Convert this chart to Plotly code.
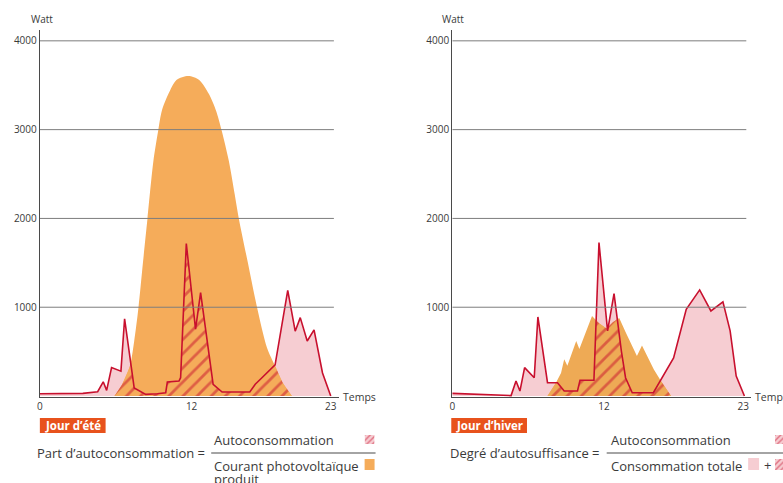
import numpy as np
import plotly.graph_objects as go

# ---------------- data ----------------
# Summer day ("Jour d'été")
summer_pv_hours = [5.9, 6.5, 7.11, 7.46, 7.8, 8.15, 8.51, 8.98, 9.37, 9.64, 10.16, 10.8, 11.74,
                   12.6, 13.37, 13.94, 14.36, 14.94, 15.41, 15.73, 16.45, 17.17, 17.96, 18.6,
                   19.2, 19.93]
summer_pv_watt = [0, 130, 330, 620, 1000, 1500, 2000, 2650, 3000, 3210, 3400, 3560, 3604,
                  3560, 3400, 3210, 3000, 2650, 2270, 2000, 1500, 1000, 544, 338,
                  150, 0]

summer_cons_hours = [0, 3.4, 4.57, 5.01, 5.28, 5.67, 6.41, 6.7, 7.46, 8.37, 9.29, 9.95, 10.08, 11.0,
                     11.13, 11.58, 12.31, 12.71, 13.7, 14.41, 16.6, 17.03, 17.56, 18.6, 19.6, 20.19,
                     20.59, 21.14, 21.68, 22.35, 23]
summer_cons_watt = [26, 30, 48, 160, 64, 320, 280, 870, 90, 18, 26, 37, 158, 169,
                    206, 1717, 752, 1165, 132, 45, 45, 132, 206, 350, 1190, 730,
                    883, 620, 745, 260, 0]

# Winter day ("Jour d'hiver")
winter_pv_hours = [7.53, 8.2, 8.6, 8.85, 9.1, 9.45, 9.8, 10.05, 10.5, 11.05, 11.6, 12.2, 12.7,
                   13.2, 13.7, 14.2, 14.6, 15.0, 15.5, 15.94, 16.5, 17.3]
winter_pv_watt = [0, 150, 260, 413, 340, 480, 620, 530, 700, 900, 820, 760, 830,
                  880, 720, 560, 450, 570, 430, 300, 170, 0]

winter_cons_hours = [0, 4.65, 5.04, 5.35, 5.72, 6.48, 6.77, 7.53, 8.32, 8.85, 9.9, 10.1, 11.2,
                     11.6, 12.28, 12.79, 13.37, 13.7, 14.23, 15.9, 17.5, 18.5, 19.56, 20.45,
                     21.4, 21.97, 22.45, 23.1]
winter_cons_watt = [30, 5, 170, 56, 320, 206, 890, 150, 150, 56, 56, 177, 177,
                    1728, 733, 1153, 507, 206, 37, 37, 430, 977, 1195, 958,
                    1060, 733, 225, 0]

y_tick_vals = [1000, 2000, 3000, 4000]
y_tick_text = ["1000", "2000", "3000", "4000"]
x_tick_vals = [0, 12, 23]
x_tick_text = ["0", "12", "23"]

# ---------------- styles ----------------
OFF = 0                      # page margin is removed by the post script below
W, H = 783 - OFF, 483 - OFF
ORANGE_S = "#F5AC5A"
ORANGE_W = "#EEAA55"
PINK = "#F6CDD2"
RED = "#C8102E"
GRID = "#7d7d7d"
AXIS = "#4a4a4a"
TEXT = "#3a3a3a"
BADGE = "#E8521C"
FONT = "Open Sans"


def px(x):
    return (x - OFF) / W


def py(y):
    return 1 - (y - OFF) / H


def min_curve(h1, w1, h2, w2):
    xs = sorted(set(h1) | set(h2))
    a = np.interp(xs, h1, w1, left=0, right=0)
    b = np.interp(xs, h2, w2, left=0, right=0)
    ox, oy = [], []
    for i in range(len(xs)):
        if i > 0:
            d0 = a[i - 1] - b[i - 1]
            d1 = a[i] - b[i]
            if d0 * d1 < 0:
                t = d0 / (d0 - d1)
                ox.append(xs[i - 1] + t * (xs[i] - xs[i - 1]))
                oy.append(a[i - 1] + t * (a[i] - a[i - 1]))
        ox.append(xs[i])
        oy.append(min(a[i], b[i]))
    return ox, oy


fig = go.Figure()


def add_panel(xa, ya, pv_h, pv_w, c_h, c_w, orange, pv_shape):
    # consumption area (pink)
    fig.add_trace(go.Scatter(x=c_h, y=c_w, mode="lines", line=dict(width=0),
                             fill="tozeroy", fillcolor=PINK, xaxis=xa, yaxis=ya,
                             hoverinfo="skip"))
    # PV production (orange)
    fig.add_trace(go.Scatter(x=pv_h, y=pv_w, mode="lines",
                             line=dict(width=0, color=orange, shape=pv_shape, smoothing=0.8),
                             fill="tozeroy", fillcolor=orange, xaxis=xa, yaxis=ya,
                             hoverinfo="skip"))
    # self-consumption (hatched)
    mx, my = min_curve(pv_h, pv_w, c_h, c_w)
    fig.add_trace(go.Scatter(x=mx, y=my, mode="lines", line=dict(width=0),
                             fill="tozeroy", fillcolor=orange,
                             fillpattern=dict(shape="/", fgcolor=RED, bgcolor=orange,
                                              size=10, solidity=0.28),
                             xaxis=xa, yaxis=ya, hoverinfo="skip"))
    # consumption line
    fig.add_trace(go.Scatter(x=c_h, y=c_w, mode="lines", line=dict(width=1.6, color=RED),
                             xaxis=xa, yaxis=ya, hoverinfo="skip"))


add_panel("x", "y", summer_pv_hours, summer_pv_watt, summer_cons_hours, summer_cons_watt,
          ORANGE_S, "spline")
add_panel("x2", "y2", winter_pv_hours, winter_pv_watt, winter_cons_hours, winter_cons_watt,
          ORANGE_W, "linear")

# legend swatches (hatched) on tiny hidden axes
swatches = [(363, 373, 435, 444), (775, 785, 435, 444), (775, 785, 459, 470)]
for i, (x0, x1, y0, y1) in enumerate(swatches):
    n = i + 3
    fig.add_trace(go.Scatter(x=[0, 1, 1, 0, 0], y=[0, 0, 1, 1, 0], mode="lines",
                             line=dict(width=0), fill="toself", fillcolor=PINK,
                             fillpattern=dict(shape="/", fgcolor=RED, bgcolor=PINK,
                                              size=4, solidity=0.35),
                             xaxis=f"x{n}", yaxis=f"y{n}", hoverinfo="skip"))
    fig.layout[f"xaxis{n}"] = dict(domain=[px(x0), min(1.0, px(x1))], range=[0, 1],
                                   visible=False, fixedrange=True, anchor=f"y{n}")
    fig.layout[f"yaxis{n}"] = dict(domain=[py(y1), py(y0)], range=[0, 1],
                                   visible=False, fixedrange=True, anchor=f"x{n}")

axis_font = dict(family=FONT, size=10, color=TEXT)
yr = [-11, 4122]
xr = [0, 23.63]
common_x = dict(range=xr, tickvals=x_tick_vals, ticktext=x_tick_text, showgrid=False,
                zeroline=False, showline=True, linecolor=AXIS, linewidth=1.2, ticks="",
                tickfont=axis_font, fixedrange=True)
common_y = dict(range=yr, tickvals=y_tick_vals, ticktext=y_tick_text, showgrid=False,
                zeroline=False, showline=True, linecolor=AXIS, linewidth=1.2, ticks="",
                tickfont=axis_font, fixedrange=True)

fig.update_layout(
    width=W, height=H,
    margin=dict(l=0, r=0, t=0, b=0),
    paper_bgcolor="white", plot_bgcolor="rgba(0,0,0,0)",
    showlegend=False,
    font=dict(family=FONT, color=TEXT),
    xaxis=dict(domain=[px(37), px(337)], anchor="y", **common_x),
    yaxis=dict(domain=[py(397), py(30)], anchor="x", **common_y),
    xaxis2=dict(domain=[px(451), px(751)], anchor="y2", **common_x),
    yaxis2=dict(domain=[py(397), py(30)], anchor="x2", **common_y),
)

shapes = []
for xa, ya in [("x", "y"), ("x2", "y2")]:
    for v in y_tick_vals:
        shapes.append(dict(type="line", xref=xa, yref=ya, x0=0, x1=23.25, y0=v, y1=v,
                           line=dict(color=GRID, width=1), layer="above"))
# badges
shapes.append(dict(type="rect", xref="paper", yref="paper", x0=px(37), x1=px(103),
                   y0=py(433), y1=py(418), fillcolor=BADGE, line=dict(width=0)))
shapes.append(dict(type="rect", xref="paper", yref="paper", x0=px(450), x1=px(526),
                   y0=py(433), y1=py(418), fillcolor=BADGE, line=dict(width=0)))
# fraction bars
shapes.append(dict(type="line", xref="paper", yref="paper", x0=px(209), x1=px(374),
                   y0=py(453), y1=py(453), line=dict(color=AXIS, width=1.2)))
shapes.append(dict(type="line", xref="paper", yref="paper", x0=px(606), x1=1.0,
                   y0=py(453), y1=py(453), line=dict(color=AXIS, width=1.2)))
# solid swatches
shapes.append(dict(type="rect", xref="paper", yref="paper", x0=px(363), x1=px(373),
                   y0=py(470), y1=py(459), fillcolor=ORANGE_S, line=dict(width=0)))
shapes.append(dict(type="rect", xref="paper", yref="paper", x0=px(748), x1=px(759),
                   y0=py(470), y1=py(458), fillcolor=PINK, line=dict(width=0)))
fig.update_layout(shapes=shapes)


def txt(text, x, y, size=13, anchor="left", color=TEXT, bold=False):
    if bold:
        text = f"<b>{text}</b>"
    return dict(text=text, x=px(x), y=py(y), xref="paper", yref="paper",
                xanchor=anchor, yanchor="middle", showarrow=False,
                font=dict(family=FONT, size=size, color=color))


annotations = [
    txt("Watt", 39, 19, size=10, anchor="center"),
    txt("Watt", 452, 19, size=10, anchor="center"),
    txt("Temps", 339, 397, size=10.5),
    txt("Temps", 753, 397, size=10.5),
    txt("Jour d’été", 70, 425.5, size=11.5, anchor="center", color="white", bold=True),
    txt("Jour d’hiver", 488, 425.5, size=11.5, anchor="center", color="white", bold=True),
    txt("Part d’autoconsommation =", 32, 453),
    txt("Autoconsommation", 210, 440),
    txt("Courant photovoltaïque", 210, 466),
    txt("produit", 210, 479),
    txt("Degré d’autosuffisance =", 447, 453),
    txt("Autoconsommation", 608, 440),
    txt("Consommation totale", 608, 466),
    txt("+", 767, 465, anchor="center"),
]
fig.update_layout(annotations=annotations)

fig.write_html("out.html",
               config={"displayModeBar": False},
               post_script="document.body.style.margin='0';"
                           "document.body.style.padding='0';"
                           "document.documentElement.style.overflow='hidden';"
                           "document.body.style.overflow='hidden';")
